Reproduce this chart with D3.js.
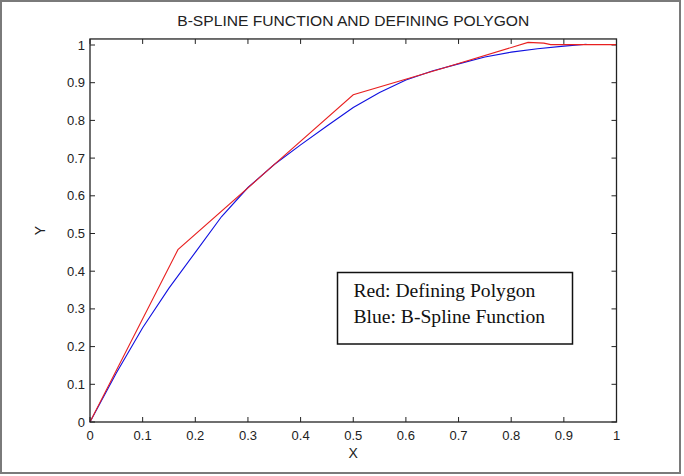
<!DOCTYPE html>
<html>
<head>
<meta charset="utf-8">
<script src="https://cdn.jsdelivr.net/npm/d3@7"></script>
<style>
  body { margin: 0; background: #fff; }
  svg { display: block; }
</style>
</head>
<body>
<div id="chart"></div>
<script>
// defining polygon (red)
const polyX = [0, 0.167, 0.333, 0.5, 0.667, 0.832, 0.862, 0.875, 1];
const polyY = [0, 0.457, 0.662, 0.868, 0.937, 1.007, 1.005, 1.001, 1.001];

// b-spline function (blue)
const splineX = [0, 0.05, 0.1, 0.15, 0.2, 0.25, 0.3, 0.35, 0.4, 0.45, 0.5, 0.55, 0.6, 0.65, 0.7, 0.75, 0.8, 0.85, 0.9, 0.943];
const splineY = [0, 0.13, 0.25, 0.355, 0.45, 0.545, 0.622, 0.683, 0.735, 0.785, 0.834, 0.874, 0.907, 0.931, 0.95, 0.968, 0.981, 0.99, 0.997, 1.002];

const xTicks = [0, 0.1, 0.2, 0.3, 0.4, 0.5, 0.6, 0.7, 0.8, 0.9, 1];
const yTicks = [0, 0.1, 0.2, 0.3, 0.4, 0.5, 0.6, 0.7, 0.8, 0.9, 1];

const W = 684, H = 476;
const left = 90, right = 616.5, bottom = 422, yOne = 45;

const svg = d3.select("#chart").append("svg")
    .attr("width", W)
    .attr("height", H);

// outer frame
svg.append("rect")
    .attr("x", 1).attr("y", 1)
    .attr("width", 679).attr("height", 472)
    .attr("fill", "#fff")
    .attr("stroke", "#7a7a7a")
    .attr("stroke-width", 2);

const x = d3.scaleLinear().domain([0, 1]).range([left, right]);
const y = d3.scaleLinear().domain([0, 1]).range([bottom, yOne]);
const yTop = y(1.016);

const fmt = d => d === 0 || d === 1 ? String(d) : d3.format(".1f")(d);

// title
svg.append("text")
    .attr("x", (left + right) / 2)
    .attr("y", 26)
    .attr("text-anchor", "middle")
    .attr("font-family", "Liberation Sans, Arial, sans-serif")
    .attr("font-size", 15)
    .attr("fill", "#222")
    .attr("textLength", 352)
    .attr("lengthAdjust", "spacingAndGlyphs")
    .text("B-SPLINE FUNCTION AND DEFINING POLYGON");

// ticks on all four sides, pointing inward
const tickLen = 5;
const g = svg.append("g").attr("stroke", "#222").attr("stroke-width", 1);
xTicks.forEach(t => {
  g.append("line").attr("x1", x(t)).attr("x2", x(t)).attr("y1", bottom).attr("y2", bottom - tickLen);
  g.append("line").attr("x1", x(t)).attr("x2", x(t)).attr("y1", yTop).attr("y2", yTop + tickLen);
});
yTicks.forEach(t => {
  g.append("line").attr("x1", left).attr("x2", left + tickLen).attr("y1", y(t)).attr("y2", y(t));
  g.append("line").attr("x1", right).attr("x2", right - tickLen).attr("y1", y(t)).attr("y2", y(t));
});

// tick labels
svg.append("g").selectAll("text")
    .data(xTicks)
    .join("text")
    .attr("x", d => x(d))
    .attr("y", 439.5)
    .attr("text-anchor", "middle")
    .attr("font-family", "Liberation Sans, Arial, sans-serif")
    .attr("font-size", 13)
    .attr("fill", "#222")
    .text(fmt);

svg.append("g").selectAll("text")
    .data(yTicks)
    .join("text")
    .attr("x", 85)
    .attr("y", d => y(d) + 4.5)
    .attr("text-anchor", "end")
    .attr("font-family", "Liberation Sans, Arial, sans-serif")
    .attr("font-size", 13)
    .attr("fill", "#222")
    .text(fmt);

// axis labels
svg.append("text")
    .attr("x", (left + right) / 2)
    .attr("y", 458)
    .attr("text-anchor", "middle")
    .attr("font-family", "Liberation Sans, Arial, sans-serif")
    .attr("font-size", 14)
    .attr("fill", "#222")
    .text("X");

svg.append("text")
    .attr("transform", `translate(45,${(bottom + yTop) / 2}) rotate(-90)`)
    .attr("text-anchor", "middle")
    .attr("font-family", "Liberation Sans, Arial, sans-serif")
    .attr("font-size", 14)
    .attr("fill", "#222")
    .text("Y");

// curves
const line = d3.line().x(d => x(d[0])).y(d => y(d[1]));

svg.append("path")
    .datum(splineX.map((v, i) => [v, splineY[i]]))
    .attr("fill", "none")
    .attr("stroke", "#1010e0")
    .attr("stroke-width", 1.1)
    .attr("d", line);

svg.append("path")
    .datum(polyX.map((v, i) => [v, polyY[i]]))
    .attr("fill", "none")
    .attr("stroke", "#e82020")
    .attr("stroke-width", 1.1)
    .attr("d", line);

// plot box
svg.append("rect")
    .attr("x", left).attr("y", yTop)
    .attr("width", right - left).attr("height", bottom - yTop)
    .attr("fill", "none")
    .attr("stroke", "#222")
    .attr("stroke-width", 1.3);

// text note box
const note = svg.append("g");
note.append("rect")
    .attr("x", 337.5).attr("y", 272.5)
    .attr("width", 235).attr("height", 71.5)
    .attr("fill", "#fff")
    .attr("stroke", "#111")
    .attr("stroke-width", 1.5);
note.append("text")
    .attr("x", 353.5).attr("y", 297)
    .attr("font-family", "Liberation Serif, Times New Roman, serif")
    .attr("font-size", 19.6)
    .attr("fill", "#111")
    .text("Red: Defining Polygon");
note.append("text")
    .attr("x", 353.5).attr("y", 322.5)
    .attr("font-family", "Liberation Serif, Times New Roman, serif")
    .attr("font-size", 19.6)
    .attr("fill", "#111")
    .text("Blue: B-Spline Function");
</script>
</body>
</html>
